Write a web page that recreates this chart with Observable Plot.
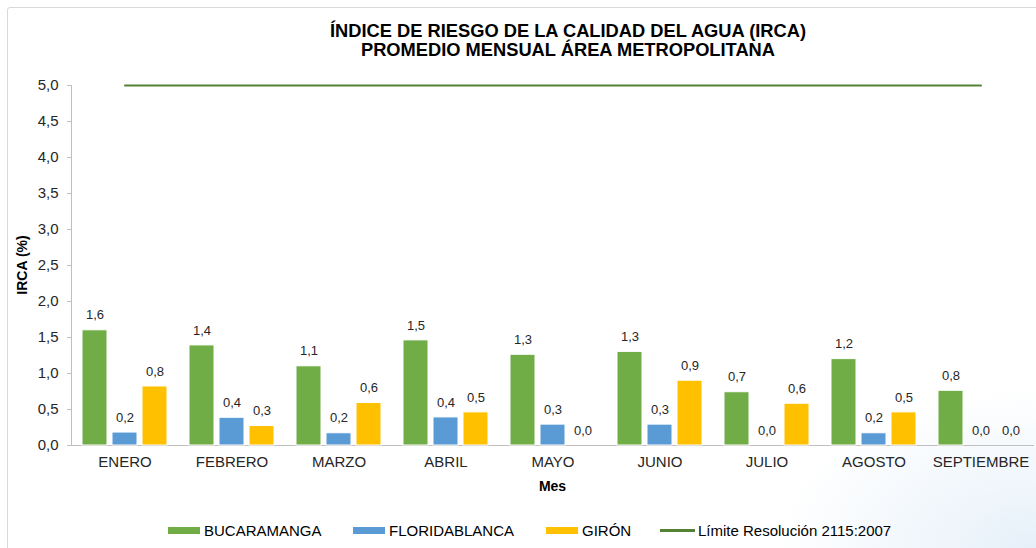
<!DOCTYPE html>
<html>
<head>
<meta charset="utf-8">
<script src="https://cdn.jsdelivr.net/npm/d3@7"></script>
<script src="https://cdn.jsdelivr.net/npm/@observablehq/plot@0.6"></script>
<style>
  html, body { margin: 0; padding: 0; background: #fff; }
  #wrap { position: relative; width: 1036px; height: 548px; overflow: hidden;
    font-family: "Liberation Sans", Arial, sans-serif;
    background: radial-gradient(ellipse 260px 160px at 100% 100%, #e6f0f9 0%, rgba(255,255,255,0) 100%), #fff; }
  #frame { position: absolute; left: 7px; top: 7px; width: 1100px; height: 600px;
    border: 1px solid #d9d9d9; border-radius: 3px; box-sizing: border-box; }
  #title { position: absolute; left: 100px; width: 936px; top: 21px; text-align: center;
    font-weight: bold; font-size: 18.3px; line-height: 19px; color: #000; }
  #chart { position: absolute; left: 0; top: 0; }
  #chart svg { background: transparent; }
  #legend { position: absolute; top: 0; left: 0; width: 1036px; height: 548px; font-size: 15px; color: #000; }
  .item { position: absolute; top: 521px; height: 18px; display: flex; align-items: center; white-space: nowrap; }
  .sw { width: 32px; height: 7px; margin-right: 4px; flex: none; }
  .ln { width: 35px; height: 3px; margin-right: 3px; flex: none; }
</style>
</head>
<body>
<div id="wrap">
  <div id="frame"></div>
  <div id="chart"></div>
  <div id="title">ÍNDICE DE RIESGO DE LA CALIDAD DEL AGUA (IRCA)<br>PROMEDIO MENSUAL ÁREA METROPOLITANA</div>
  <div id="legend"></div>
</div>
<script>
const months = ["ENERO","FEBRERO","MARZO","ABRIL","MAYO","JUNIO","JULIO","AGOSTO","SEPTIEMBRE"];
const seriesNames = ["BUCARAMANGA","FLORIDABLANCA","GIRÓN"];
const bucaramanga = [1.60,1.39,1.10,1.46,1.26,1.30,0.74,1.20,0.76];
const floridablanca = [0.18,0.385,0.17,0.39,0.29,0.29,0.00,0.17,0.00];
const giron = [0.82,0.27,0.59,0.46,0.00,0.90,0.58,0.46,0.00];
const limite = 5.0;
const limiteName = "Límite Resolución 2115:2007";
const yTicks = [0,0.5,1,1.5,2,2.5,3,3.5,4,4.5,5];
const colors = ["#70ad47","#5b9bd5","#ffc000"];
const limitColor = "#548235";

const seriesValues = [bucaramanga, floridablanca, giron];
const fmt = v => v.toFixed(1).replace(".", ",");

const W = 1036, H = 548;
const mL = 71, mR = 2, mT = 85, mB = 103;
const band = (W - mL - mR) / months.length;
const barW = 25, step = 30;

const marks = [
  Plot.gridY(yTicks, {stroke: "#d9d9d9", strokeOpacity: 1, x1: mL - 4}),
  Plot.axisY(yTicks, {tickFormat: fmt, tickSize: 4, tickPadding: 9, stroke: "#bfbfbf",
    fontSize: 15, fill: "#262626", label: null}),
  Plot.axisX({tickSize: 0, tickPadding: 11, fontSize: 15, fill: "#262626", label: null}),
  Plot.ruleY([0], {stroke: "#bfbfbf"}),
  Plot.frame({anchor: "left", stroke: "#bfbfbf"})
];
seriesValues.forEach((vals, i) => {
  const data = months.map((m, j) => ({month: m, value: vals[j]}));
  const off = (i - 1) * step;
  const inset = (band - barW) / 2;
  marks.push(Plot.barY(data, {x: "month", y: "value", fill: colors[i], stroke: "#fff", strokeWidth: 1,
    dx: off, insetLeft: inset, insetRight: inset}));
  marks.push(Plot.text(data, {x: "month", y: "value", text: d => fmt(d.value), dx: off, dy: -15,
    fontSize: 13, fill: "#262626"}));
});
marks.push(Plot.lineY(months.map(m => ({month: m, value: limite})),
  {x: "month", y: "value", stroke: limitColor, strokeWidth: 2}));

const chart = Plot.plot({
  width: W, height: H,
  marginLeft: mL, marginRight: mR, marginTop: mT, marginBottom: mB,
  style: {fontFamily: "'Liberation Sans', Arial, sans-serif", background: "transparent"},
  x: {domain: months, padding: 0, label: null},
  y: {domain: [0, 5], label: null},
  marks
});
document.getElementById("chart").appendChild(chart);

const svg = d3.select(chart);
svg.append("text").attr("x", mL + (W - mL - mR) / 2).attr("y", 491)
  .attr("text-anchor", "middle").attr("font-weight", "bold").attr("font-size", 14)
  .attr("fill", "#000").text("Mes");
svg.append("text").attr("transform", `translate(27,${mT + (H - mT - mB) / 2}) rotate(-90)`)
  .attr("text-anchor", "middle").attr("font-weight", "bold").attr("font-size", 14)
  .attr("fill", "#000").text("IRCA (%)");

const legend = document.getElementById("legend");
const legendX = [168, 353, 546, 660];
seriesNames.forEach((n, i) => {
  const it = document.createElement("div"); it.className = "item"; it.style.left = legendX[i] + "px";
  it.innerHTML = `<div class="sw" style="background:${colors[i]}"></div><span>${n}</span>`;
  legend.appendChild(it);
});
const it = document.createElement("div"); it.className = "item"; it.style.left = legendX[3] + "px";
it.innerHTML = `<div class="ln" style="background:${limitColor}"></div><span>${limiteName}</span>`;
legend.appendChild(it);
</script>
</body>
</html>
